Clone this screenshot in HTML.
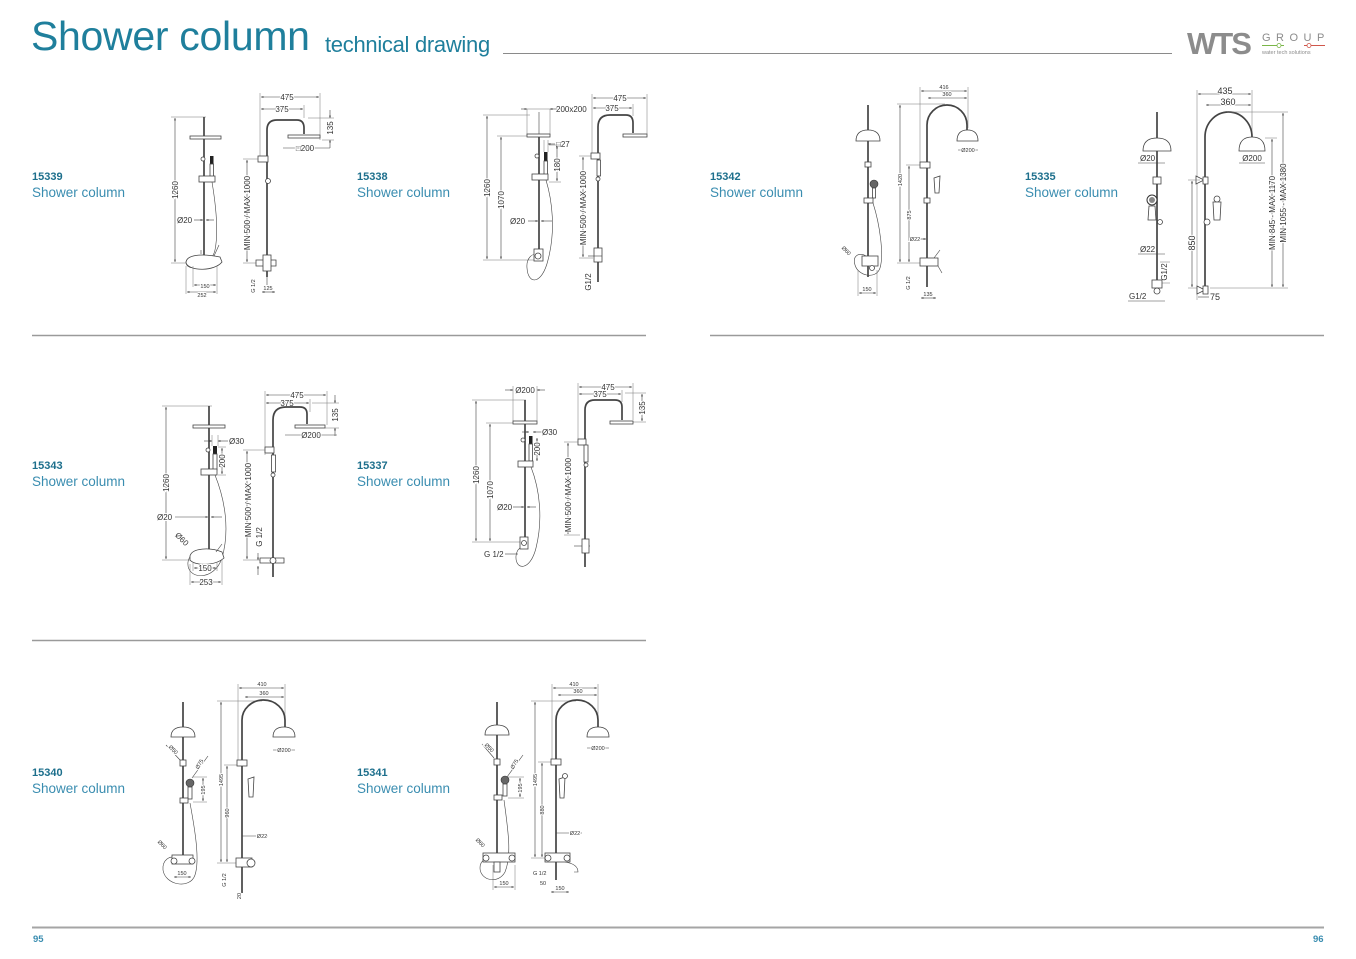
<!DOCTYPE html>
<html><head><meta charset="utf-8"><style>
html,body{margin:0;padding:0;background:#fff;}
#pg{position:relative;width:1356px;height:959px;overflow:hidden;background:#fff;font-family:"Liberation Sans",sans-serif;}
.h1{position:absolute;left:31px;top:13px;font-size:41px;color:#1f7f9c;white-space:nowrap;letter-spacing:-0.3px;}
.h2{position:absolute;left:325px;top:32px;font-size:22px;color:#1f7f9c;white-space:nowrap;letter-spacing:-0.3px;}
.code{position:absolute;font-size:11px;font-weight:bold;color:#1d6f8c;}
.name{position:absolute;font-size:13.5px;color:#3a8db0;white-space:nowrap;}
.pn{position:absolute;font-size:9.5px;font-weight:bold;color:#3a8db0;top:934px;}
svg{position:absolute;left:0;top:0;}
.p{stroke:#444;stroke-width:1.7;fill:none}
.t{stroke:#444;stroke-width:0.8;fill:#fff}
.d{stroke:#444;stroke-width:0.6;fill:none}
.e{stroke:#777;stroke-width:0.5;fill:none}
text{font-family:"Liberation Sans",sans-serif;fill:#333;paint-order:stroke;stroke:#fff;stroke-width:2px;}
.s8{font-size:8px}
.s5{font-size:5.5px}
.s9{font-size:9px}
</style></head><body><div id="pg">
<div class="h1">Shower column</div>
<div class="h2">technical drawing</div>

<div class="code" style="left:32px;top:171px">15339</div><div class="name" style="left:32px;top:185px">Shower column</div>
<div class="code" style="left:357px;top:171px">15338</div><div class="name" style="left:357px;top:185px">Shower column</div>
<div class="code" style="left:710px;top:171px">15342</div><div class="name" style="left:710px;top:185px">Shower column</div>
<div class="code" style="left:1025px;top:171px">15335</div><div class="name" style="left:1025px;top:185px">Shower column</div>
<div class="code" style="left:32px;top:460px">15343</div><div class="name" style="left:32px;top:474px">Shower column</div>
<div class="code" style="left:357px;top:460px">15337</div><div class="name" style="left:357px;top:474px">Shower column</div>
<div class="code" style="left:32px;top:767px">15340</div><div class="name" style="left:32px;top:781px">Shower column</div>
<div class="code" style="left:357px;top:767px">15341</div><div class="name" style="left:357px;top:781px">Shower column</div>
<div class="pn" style="left:33px">95</div>
<div class="pn" style="left:1313px">96</div>

<svg width="1356" height="959" viewBox="0 0 1356 959">
<defs><marker id="a" viewBox="0 0 6 6" refX="6" refY="3" markerWidth="4" markerHeight="4" orient="auto-start-reverse"><path d="M0,0.8 L6,3 L0,5.2z" fill="#333"/></marker></defs>

<!-- header lines & logo -->
<line x1="503" y1="53.5" x2="1172" y2="53.5" stroke="#8a8a8a" stroke-width="1"/>
<text x="1187" y="54" style="font-size:31px;font-weight:bold;fill:#8c8c8c;stroke:none;letter-spacing:-2px">WTS</text>
<text x="1262" y="41" style="font-size:11px;fill:#8c8c8c;stroke:none;letter-spacing:5.5px">GROUP</text>
<line x1="1262" y1="45.5" x2="1284" y2="45.5" stroke="#7ab648" stroke-width="1"/><circle cx="1279" cy="45.5" r="2" fill="#fff" stroke="#7ab648" stroke-width="0.8"/>
<line x1="1304" y1="45.5" x2="1325" y2="45.5" stroke="#d0574b" stroke-width="1"/><circle cx="1309" cy="45.5" r="2" fill="#fff" stroke="#d0574b" stroke-width="0.8"/>
<text x="1262" y="54" style="font-size:5.5px;fill:#8c8c8c;stroke:none">water tech solutions</text>

<!-- section lines -->
<line x1="32" y1="335.5" x2="646" y2="335.5" stroke="#9a9a9a" stroke-width="1.5"/>
<line x1="710" y1="335.5" x2="1324" y2="335.5" stroke="#9a9a9a" stroke-width="1.5"/>
<line x1="32" y1="640.5" x2="646" y2="640.5" stroke="#9a9a9a" stroke-width="1.5"/>
<line x1="32" y1="927.5" x2="1324" y2="927.5" stroke="#a5a5a5" stroke-width="2"/>

<!-- ===== 15339 ===== -->
<line class="e" x1="171" y1="117" x2="206" y2="117"/><line class="e" x1="171" y1="263" x2="190" y2="263"/>
<line class="d" x1="175" y1="118" x2="175" y2="262" marker-start="url(#a)" marker-end="url(#a)"/>
<text class="s8" transform="translate(178,190) rotate(-90)" text-anchor="middle">1260</text>
<path class="p" d="M204 117 V256"/>
<rect class="t" x="190" y="136" width="31" height="3"/>
<circle class="t" cx="203" cy="159" r="2"/>
<rect x="210" y="156" width="3.5" height="8" fill="#222"/><rect class="t" x="210" y="164" width="3.5" height="15"/>
<rect class="t" x="199" y="176" width="16" height="6"/>
<path class="d" d="M212 182 C215 200 219 230 215 250 C211 268 186 273 186 262 C187 255 200 256 205 260"/>
<text class="s8" x="177" y="223">Ø20</text>
<line class="d" x1="194" y1="220" x2="203" y2="220" marker-end="url(#a)"/><line class="d" x1="214" y1="220" x2="206" y2="220" marker-end="url(#a)"/>
<path class="t" d="M186 263 C186 255 200 253 220 257 L222 262 C215 271 190 272 186 263 Z"/>
<path class="d" d="M214 256 L219 245 M201 254 V250"/>
<line class="e" x1="193" y1="266" x2="193" y2="287"/><line class="e" x1="217" y1="266" x2="217" y2="294"/><line class="e" x1="186" y1="266" x2="186" y2="294"/>
<line class="d" x1="194" y1="285" x2="216" y2="285" marker-start="url(#a)" marker-end="url(#a)"/><text class="s5" x="205" y="288" text-anchor="middle">150</text>
<line class="d" x1="187" y1="292" x2="216" y2="292" marker-start="url(#a)" marker-end="url(#a)"/><text class="s5" x="202" y="297" text-anchor="middle">252</text>
<!-- side -->
<line class="e" x1="260" y1="93" x2="260" y2="158"/><line class="e" x1="320" y1="93" x2="320" y2="140"/><line class="e" x1="304" y1="105" x2="304" y2="118"/>
<line class="d" x1="261" y1="97" x2="319" y2="97" marker-start="url(#a)" marker-end="url(#a)"/><text class="s8" x="287" y="100" text-anchor="middle">475</text>
<line class="d" x1="261" y1="109" x2="303" y2="109" marker-start="url(#a)" marker-end="url(#a)"/><text class="s8" x="282" y="112" text-anchor="middle">375</text>
<line class="e" x1="308" y1="118" x2="334" y2="118"/><line class="e" x1="322" y1="140" x2="334" y2="140"/>
<line class="d" x1="330" y1="110" x2="330" y2="118" marker-end="url(#a)"/><line class="d" x1="330" y1="148" x2="330" y2="140" marker-end="url(#a)"/>
<text class="s8" transform="translate(333,128) rotate(-90)" text-anchor="middle">135</text>
<path class="p" d="M267 277 V130 Q267 120 277 120 H297 Q304 120 304 128 V134"/>
<rect class="t" x="288" y="135" width="32" height="3"/>
<line class="d" x1="283" y1="148" x2="330" y2="148"/><text class="s8" x="305" y="151" text-anchor="middle">□200</text>
<rect class="t" x="258" y="156" width="10" height="6"/>
<circle class="t" cx="268" cy="181" r="2.5"/>
<line class="e" x1="243" y1="159" x2="258" y2="159"/><line class="e" x1="243" y1="263" x2="258" y2="263"/>
<line class="d" x1="247" y1="160" x2="247" y2="262" marker-start="url(#a)" marker-end="url(#a)"/>
<text class="s8" transform="translate(250,213) rotate(-90)" text-anchor="middle">MIN 500 / MAX 1000</text>
<path class="t" d="M256 260 H276 V266 H256 Z"/><rect class="t" x="263" y="255" width="8" height="16"/><line class="d" x1="267" y1="271" x2="267" y2="285"/>
<text class="s5" transform="translate(255,286) rotate(-90)" text-anchor="middle">G 1/2</text>
<line class="d" x1="262" y1="292" x2="275" y2="292" marker-start="url(#a)" marker-end="url(#a)"/><text class="s5" x="268" y="290" text-anchor="middle">125</text>

<!-- ===== 15338 ===== -->
<line class="e" x1="483" y1="115" x2="530" y2="115"/><line class="e" x1="483" y1="260" x2="535" y2="260"/><line class="e" x1="497" y1="136" x2="527" y2="136"/>
<line class="d" x1="487" y1="116" x2="487" y2="259" marker-start="url(#a)" marker-end="url(#a)"/>
<text class="s8" transform="translate(490,188) rotate(-90)" text-anchor="middle">1260</text>
<line class="d" x1="501" y1="137" x2="501" y2="259" marker-start="url(#a)" marker-end="url(#a)"/>
<text class="s8" transform="translate(504,200) rotate(-90)" text-anchor="middle">1070</text>
<rect class="e" x="527" y="109" width="23" height="26"/><line class="d" x1="539" y1="112" x2="539" y2="135"/>
<rect class="t" x="527" y="134" width="23" height="3"/>
<line class="d" x1="521" y1="109" x2="527" y2="109" marker-end="url(#a)"/><line class="d" x1="557" y1="109" x2="550" y2="109" marker-end="url(#a)"/>
<text class="s8" x="556" y="112">200x200</text>
<path class="p" d="M539 137 V258"/>
<line class="e" x1="544" y1="140" x2="544" y2="152"/><line class="e" x1="548" y1="140" x2="548" y2="152"/>
<line class="d" x1="555" y1="144" x2="548" y2="144" marker-end="url(#a)"/><text class="s8" x="556" y="147">□27</text>
<line class="e" x1="549" y1="145" x2="561" y2="145"/><line class="e" x1="549" y1="182" x2="561" y2="182"/>
<line class="d" x1="557" y1="146" x2="557" y2="181" marker-start="url(#a)" marker-end="url(#a)"/>
<text class="s8" transform="translate(560,165) rotate(-90)" text-anchor="middle">180</text>
<circle class="t" cx="537" cy="156" r="2"/>
<rect x="544" y="152" width="3.5" height="9" fill="#222"/><rect class="t" x="544" y="161" width="3.5" height="15"/>
<rect class="t" x="532" y="174" width="16" height="6"/>
<text class="s8" x="510" y="224">Ø20</text>
<line class="d" x1="528" y1="221" x2="538" y2="221" marker-end="url(#a)"/><line class="d" x1="552" y1="221" x2="541" y2="221" marker-end="url(#a)"/>
<path class="d" d="M546 180 C552 200 556 230 548 260 C542 285 528 285 527 268 C526 258 533 252 538 255"/>
<rect class="t" x="534" y="249" width="9" height="12"/><circle class="t" cx="538" cy="256" r="3"/>
<line class="e" x1="592" y1="94" x2="592" y2="158"/><line class="e" x1="647" y1="94" x2="647" y2="134"/><line class="e" x1="633" y1="104" x2="633" y2="116"/>
<line class="d" x1="593" y1="98" x2="646" y2="98" marker-start="url(#a)" marker-end="url(#a)"/><text class="s8" x="620" y="101" text-anchor="middle">475</text>
<line class="d" x1="593" y1="108" x2="632" y2="108" marker-start="url(#a)" marker-end="url(#a)"/><text class="s8" x="612" y="111" text-anchor="middle">375</text>
<path class="p" d="M598 282 V127 Q598 115 610 115 H626 Q633 115 633 123 V133"/>
<rect class="t" x="623" y="134" width="24" height="3"/>
<rect class="t" x="591" y="153" width="9" height="6"/>
<rect class="t" x="597" y="160" width="3.5" height="16"/><circle class="t" cx="598" cy="179" r="2"/>
<line class="e" x1="579" y1="156" x2="591" y2="156"/><line class="e" x1="579" y1="258" x2="593" y2="258"/>
<line class="d" x1="583" y1="157" x2="583" y2="257" marker-start="url(#a)" marker-end="url(#a)"/>
<text class="s8" transform="translate(586,208) rotate(-90)" text-anchor="middle">MIN 500 / MAX 1000</text>
<rect class="t" x="594" y="248" width="8" height="14"/><line class="d" x1="588" y1="256" x2="602" y2="256"/>
<text class="s8" transform="translate(591,282) rotate(-90)" text-anchor="middle">G1/2</text>

<!-- ===== 15342 ===== -->
<path class="p" d="M868 105 V130"/>
<path class="t" d="M856 141 Q856 130 868 130 Q880 130 880 141 Z"/>
<path class="p" d="M868 141 V277"/>
<rect class="t" x="865" y="162" width="6" height="5"/>
<circle cx="874" cy="184" r="4" fill="#666" stroke="#333" stroke-width="0.6"/>
<rect class="t" x="872.5" y="188" width="3" height="10"/>
<rect class="t" x="864" y="198" width="9" height="5"/>
<path class="d" d="M873 203 C880 225 884 255 880 268 C876 280 858 276 855 265 C852 255 860 252 866 256"/>
<rect class="t" x="862" y="256" width="16" height="10"/><circle class="t" cx="872" cy="268" r="2.5"/>
<text class="s5" transform="translate(845,252) rotate(45)" text-anchor="middle">Ø60</text>
<line class="e" x1="858" y1="270" x2="858" y2="296"/><line class="e" x1="877" y1="270" x2="877" y2="296"/>
<line class="d" x1="859" y1="293" x2="876" y2="293" marker-start="url(#a)" marker-end="url(#a)"/><text class="s5" x="867" y="291" text-anchor="middle">150</text>
<line class="e" x1="920" y1="87" x2="920" y2="163"/><line class="e" x1="968" y1="87" x2="968" y2="128"/>
<line class="d" x1="921" y1="91" x2="967" y2="91" marker-start="url(#a)" marker-end="url(#a)"/><text class="s5" x="944" y="89" text-anchor="middle">416</text>
<line class="d" x1="928" y1="98" x2="967" y2="98" marker-start="url(#a)" marker-end="url(#a)"/><text class="s5" x="947" y="96" text-anchor="middle">360</text>
<line class="e" x1="897" y1="104" x2="945" y2="104"/><line class="e" x1="897" y1="263" x2="920" y2="263"/><line class="e" x1="906" y1="165" x2="920" y2="165"/>
<line class="d" x1="900" y1="105" x2="900" y2="262" marker-start="url(#a)" marker-end="url(#a)"/>
<text class="s5" transform="translate(902,180) rotate(-90)" text-anchor="middle">1420</text>
<line class="d" x1="909" y1="166" x2="909" y2="262" marker-start="url(#a)" marker-end="url(#a)"/>
<text class="s5" transform="translate(911,215) rotate(-90)" text-anchor="middle">875</text>
<path class="p" d="M927 287 V125 A20 20 0 0 1 967 125 V130"/>
<path class="t" d="M957 141 Q957 130 967.5 130 Q978 130 978 141 Z"/>
<line class="d" x1="958" y1="150" x2="978" y2="150"/><text class="s5" x="968" y="152" text-anchor="middle">Ø200</text>
<rect class="t" x="920" y="162" width="10" height="6"/>
<path class="t" d="M934 178 L940 176 L939 193 L935 193 Z"/>
<rect class="t" x="924" y="198" width="6" height="5"/>
<line class="d" x1="912" y1="239" x2="926" y2="239" marker-end="url(#a)"/><text class="s5" x="915" y="241" text-anchor="middle">Ø22</text>
<rect class="t" x="920" y="258" width="18" height="8"/><path class="d" d="M934 258 L940 250 M938 266 L942 273"/>
<text class="s5" transform="translate(910,283) rotate(-90)" text-anchor="middle">G 1/2</text>
<line class="d" x1="921" y1="298" x2="936" y2="298" marker-start="url(#a)" marker-end="url(#a)"/><text class="s5" x="928" y="296" text-anchor="middle">135</text>

<!-- ===== 15335 ===== -->
<path class="p" d="M1157 112 V138"/>
<path class="t" d="M1143 151 Q1143 138 1157 138 Q1171 138 1171 151 Z"/>
<path class="p" d="M1157 151 V293"/>
<line class="d" x1="1138" y1="163" x2="1165" y2="163"/><text class="s8" x="1140" y="161">Ø20</text>
<rect class="t" x="1153" y="177" width="8" height="7"/>
<circle cx="1152" cy="200" r="5" fill="#fff" stroke="#333" stroke-width="1"/><circle cx="1152" cy="200" r="3" fill="#888"/>
<path class="t" d="M1149 206 L1155 206 L1156 220 L1148 220 Z"/>
<circle class="t" cx="1160" cy="222" r="2.5"/>
<line class="d" x1="1138" y1="254" x2="1165" y2="254"/><text class="s8" x="1140" y="252">Ø22</text>
<line class="e" x1="1160" y1="262" x2="1170" y2="262"/><line class="e" x1="1160" y1="283" x2="1170" y2="283"/>
<text class="s8" transform="translate(1167,272) rotate(-90)" text-anchor="middle">G1/2</text>
<rect class="t" x="1152" y="280" width="10" height="8"/><circle class="t" cx="1157" cy="291" r="3"/>
<line class="d" x1="1128" y1="301" x2="1165" y2="301"/><text class="s8" x="1129" y="299">G1/2</text>
<line class="e" x1="1197" y1="90" x2="1197" y2="300"/><line class="e" x1="1252" y1="90" x2="1252" y2="135"/>
<line class="d" x1="1198" y1="94" x2="1251" y2="94" marker-start="url(#a)" marker-end="url(#a)"/><text class="s9" x="1225" y="94" text-anchor="middle">435</text>
<line class="d" x1="1206" y1="105" x2="1251" y2="105" marker-start="url(#a)" marker-end="url(#a)"/><text class="s9" x="1228" y="105" text-anchor="middle">360</text>
<path class="p" d="M1205 293 V137 A23.5 25 0 0 1 1252 137"/>
<path class="t" d="M1239 151 Q1239 137 1252 137 Q1265 137 1265 151 Z"/>
<line class="d" x1="1239" y1="163" x2="1265" y2="163"/><text class="s8" x="1252" y="161" text-anchor="middle">Ø200</text>
<path class="t" d="M1196 176 L1204 180 L1196 184 Z"/><rect class="t" x="1203" y="177" width="5" height="7"/>
<circle class="t" cx="1217" cy="199" r="3"/><path class="t" d="M1213 202 L1221 202 L1220 220 L1214 220 Z"/>
<circle class="t" cx="1207" cy="222" r="3"/>
<line class="e" x1="1188" y1="180" x2="1200" y2="180"/><line class="e" x1="1188" y1="288" x2="1200" y2="288"/>
<line class="d" x1="1192" y1="181" x2="1192" y2="287" marker-start="url(#a)" marker-end="url(#a)"/>
<text class="s9" transform="translate(1195,243) rotate(-90)" text-anchor="middle">850</text>
<line class="e" x1="1265" y1="138" x2="1277" y2="138"/><line class="e" x1="1227" y1="112" x2="1288" y2="112"/><line class="e" x1="1210" y1="288" x2="1288" y2="288"/>
<line class="d" x1="1272" y1="139" x2="1272" y2="287" marker-start="url(#a)" marker-end="url(#a)"/>
<text class="s8" transform="translate(1275,213) rotate(-90)" text-anchor="middle">MIN 845 - MAX 1170</text>
<line class="d" x1="1283" y1="113" x2="1283" y2="287" marker-start="url(#a)" marker-end="url(#a)"/>
<text class="s8" transform="translate(1286,203) rotate(-90)" text-anchor="middle">MIN 1055 - MAX 1380</text>
<path class="t" d="M1197 286 L1205 290 L1197 294 Z"/><rect class="t" x="1203" y="286" width="5" height="8"/>
<line class="d" x1="1198" y1="297" x2="1209" y2="297"/><text class="s9" x="1210" y="300">75</text>

<!-- ===== 15343 ===== -->
<line class="e" x1="162" y1="406" x2="212" y2="406"/><line class="e" x1="162" y1="560" x2="190" y2="560"/>
<line class="d" x1="166" y1="407" x2="166" y2="559" marker-start="url(#a)" marker-end="url(#a)"/>
<text class="s8" transform="translate(169,483) rotate(-90)" text-anchor="middle">1260</text>
<path class="p" d="M209 406 V555"/>
<rect class="t" x="193" y="425" width="32" height="3"/>
<line class="e" x1="212" y1="435" x2="212" y2="446"/><line class="e" x1="218" y1="435" x2="218" y2="446"/>
<line class="d" x1="204" y1="441" x2="212" y2="441" marker-end="url(#a)"/><line class="d" x1="228" y1="441" x2="218" y2="441" marker-end="url(#a)"/>
<text class="s8" x="229" y="444">Ø30</text>
<line class="e" x1="218" y1="447" x2="226" y2="447"/><line class="e" x1="218" y1="475" x2="226" y2="475"/>
<line class="d" x1="222" y1="448" x2="222" y2="474" marker-start="url(#a)" marker-end="url(#a)"/>
<text class="s8" transform="translate(225,461) rotate(-90)" text-anchor="middle">200</text>
<circle class="t" cx="208" cy="450" r="2"/>
<rect x="213" y="446" width="4" height="8" fill="#222"/><rect class="t" x="213" y="454" width="4" height="16"/>
<rect class="t" x="201" y="469" width="16" height="6"/>
<path class="d" d="M215 475 C225 500 230 530 222 558 C214 582 186 580 188 562 C190 550 205 549 210 553"/>
<text class="s8" x="157" y="520">Ø20</text>
<line class="d" x1="175" y1="517" x2="208" y2="517" marker-end="url(#a)"/><line class="d" x1="222" y1="517" x2="211" y2="517" marker-end="url(#a)"/>
<text class="s8" transform="translate(180,541) rotate(45)" text-anchor="middle">Ø60</text>
<path class="t" d="M190 556 C192 548 210 547 222 552 L224 558 C215 566 195 566 190 560 Z"/>
<path class="d" d="M216 552 L222 544"/>
<line class="e" x1="193" y1="562" x2="193" y2="571"/><line class="e" x1="217" y1="562" x2="217" y2="571"/><line class="e" x1="190" y1="564" x2="190" y2="585"/><line class="e" x1="222" y1="560" x2="222" y2="585"/>
<line class="d" x1="194" y1="568" x2="216" y2="568" marker-start="url(#a)" marker-end="url(#a)"/><text class="s8" x="205" y="571" text-anchor="middle">150</text>
<line class="d" x1="191" y1="582" x2="221" y2="582" marker-start="url(#a)" marker-end="url(#a)"/><text class="s8" x="206" y="585" text-anchor="middle">253</text>
<line class="e" x1="265" y1="391" x2="265" y2="455"/><line class="e" x1="327" y1="391" x2="327" y2="425"/><line class="e" x1="310" y1="399" x2="310" y2="412"/>
<line class="d" x1="266" y1="395" x2="326" y2="395" marker-start="url(#a)" marker-end="url(#a)"/><text class="s8" x="297" y="398" text-anchor="middle">475</text>
<line class="d" x1="266" y1="403" x2="309" y2="403" marker-start="url(#a)" marker-end="url(#a)"/><text class="s8" x="287" y="406" text-anchor="middle">375</text>
<line class="e" x1="312" y1="403" x2="339" y2="403"/><line class="e" x1="325" y1="428" x2="339" y2="428"/>
<line class="d" x1="335" y1="395" x2="335" y2="403" marker-end="url(#a)"/><line class="d" x1="335" y1="436" x2="335" y2="428" marker-end="url(#a)"/>
<text class="s8" transform="translate(338,415) rotate(-90)" text-anchor="middle">135</text>
<path class="p" d="M273 577 V420 Q273 407 286 407 H300 Q307 407 307 414 V424"/>
<rect class="t" x="295" y="425" width="30" height="3"/>
<line class="d" x1="285" y1="435" x2="337" y2="435"/><text class="s8" x="311" y="438" text-anchor="middle">Ø200</text>
<rect class="t" x="265" y="447" width="9" height="6"/>
<rect class="t" x="271.5" y="455" width="4" height="17"/><circle class="t" cx="273" cy="475" r="2"/>
<line class="e" x1="243" y1="450" x2="265" y2="450"/><line class="e" x1="243" y1="560" x2="262" y2="560"/>
<line class="d" x1="247" y1="451" x2="247" y2="559" marker-start="url(#a)" marker-end="url(#a)"/>
<text class="s8" transform="translate(251,500) rotate(-90)" text-anchor="middle">MIN 500 / MAX 1000</text>
<text class="s8" transform="translate(262,537) rotate(-90)" text-anchor="middle">G 1/2</text>
<line class="d" x1="258" y1="553" x2="258" y2="560" marker-end="url(#a)"/><line class="d" x1="258" y1="575" x2="258" y2="566" marker-end="url(#a)"/>
<path class="t" d="M260 558 H284 V563 H260 Z"/><circle class="t" cx="273" cy="560.5" r="3"/>

<!-- ===== 15337 ===== -->
<line class="e" x1="513" y1="386" x2="513" y2="421"/><line class="e" x1="537" y1="386" x2="537" y2="421"/>
<line class="d" x1="505" y1="390" x2="513" y2="390" marker-end="url(#a)"/><line class="d" x1="545" y1="390" x2="537" y2="390" marker-end="url(#a)"/>
<text class="s8" x="525" y="393" text-anchor="middle">Ø200</text>
<line class="e" x1="472" y1="400" x2="526" y2="400"/><line class="e" x1="486" y1="423" x2="513" y2="423"/><line class="e" x1="472" y1="542" x2="520" y2="542"/>
<line class="d" x1="476" y1="401" x2="476" y2="541" marker-start="url(#a)" marker-end="url(#a)"/>
<text class="s8" transform="translate(479,475) rotate(-90)" text-anchor="middle">1260</text>
<line class="d" x1="490" y1="424" x2="490" y2="541" marker-start="url(#a)" marker-end="url(#a)"/>
<text class="s8" transform="translate(493,490) rotate(-90)" text-anchor="middle">1070</text>
<path class="p" d="M525 400 V548"/>
<rect class="t" x="513" y="421" width="24" height="3"/>
<line class="d" x1="522" y1="432" x2="529" y2="432" marker-end="url(#a)"/><line class="d" x1="545" y1="432" x2="533" y2="432" marker-end="url(#a)"/>
<text class="s8" x="542" y="435">Ø30</text>
<line class="d" x1="537" y1="438" x2="537" y2="461" marker-start="url(#a)" marker-end="url(#a)"/>
<text class="s8" transform="translate(540,449) rotate(-90)" text-anchor="middle">200</text>
<circle class="t" cx="523" cy="440" r="2"/>
<rect x="529" y="436" width="3.5" height="8" fill="#222"/><rect class="t" x="529" y="444" width="3.5" height="17"/>
<rect class="t" x="518" y="461" width="15" height="6"/>
<path class="d" d="M531 467 C540 490 543 520 536 548 C530 572 515 570 516 556 C517 548 522 546 525 548"/>
<text class="s8" x="497" y="510">Ø20</text>
<line class="d" x1="513" y1="507" x2="524" y2="507" marker-end="url(#a)"/><line class="d" x1="536" y1="507" x2="527" y2="507" marker-end="url(#a)"/>
<text class="s8" x="484" y="557">G 1/2</text><line class="d" x1="505" y1="554" x2="518" y2="554"/>
<rect class="t" x="520" y="537" width="8" height="12"/><circle class="t" cx="524" cy="543" r="2.5"/>
<line class="e" x1="578" y1="383" x2="578" y2="445"/><line class="e" x1="633" y1="383" x2="633" y2="420"/><line class="e" x1="622" y1="390" x2="622" y2="402"/>
<line class="d" x1="579" y1="387" x2="632" y2="387" marker-start="url(#a)" marker-end="url(#a)"/><text class="s8" x="608" y="390" text-anchor="middle">475</text>
<line class="d" x1="579" y1="394" x2="621" y2="394" marker-start="url(#a)" marker-end="url(#a)"/><text class="s8" x="600" y="397" text-anchor="middle">375</text>
<line class="e" x1="625" y1="393" x2="646" y2="393"/><line class="e" x1="633" y1="422" x2="646" y2="422"/>
<line class="d" x1="642" y1="394" x2="642" y2="421" marker-start="url(#a)" marker-end="url(#a)"/>
<text class="s8" transform="translate(645,408) rotate(-90)" text-anchor="middle">135</text>
<path class="p" d="M585 567 V410 Q585 400 595 400 H615 Q622 400 622 407 V420"/>
<rect class="t" x="610" y="421" width="23" height="3"/>
<rect class="t" x="578" y="439" width="8" height="6"/>
<rect class="t" x="584" y="445" width="4" height="17"/><circle class="t" cx="586" cy="465" r="2"/>
<line class="e" x1="564" y1="442" x2="578" y2="442"/><line class="e" x1="564" y1="535" x2="580" y2="535"/>
<line class="d" x1="568" y1="443" x2="568" y2="534" marker-start="url(#a)" marker-end="url(#a)"/>
<text class="s8" transform="translate(571,495) rotate(-90)" text-anchor="middle">MIN 500 / MAX 1000</text>
<line class="d" x1="574" y1="546" x2="590" y2="546"/><rect class="t" x="582" y="539" width="7" height="14"/>

<!-- ===== 15340 ===== -->
<path class="p" d="M183 702 V727"/>
<path class="t" d="M171 737 Q171 727 183 727 Q195 727 195 737 Z"/>
<path class="p" d="M183 737 V862"/>
<line class="d" x1="166" y1="745" x2="180" y2="760"/><text class="s5" transform="translate(172,751) rotate(45)" text-anchor="middle">Ø50</text>
<rect class="t" x="180" y="760" width="6" height="6"/>
<line class="d" x1="192" y1="778" x2="208" y2="756"/><text class="s5" transform="translate(201,765) rotate(-60)" text-anchor="middle">Ø75</text>
<circle cx="190" cy="783" r="4" fill="#666" stroke="#333" stroke-width="0.6"/>
<rect class="t" x="188" y="787" width="4" height="12"/>
<line class="e" x1="193" y1="777" x2="207" y2="777"/><line class="e" x1="193" y1="802" x2="207" y2="802"/>
<line class="d" x1="203" y1="778" x2="203" y2="801" marker-start="url(#a)" marker-end="url(#a)"/>
<text class="s5" transform="translate(205,790) rotate(-90)" text-anchor="middle">195</text>
<rect class="t" x="180" y="798" width="8" height="5"/>
<path class="d" d="M190 803 C195 830 200 860 195 875 C190 890 165 885 163 870 C162 860 170 855 176 858"/>
<text class="s5" transform="translate(161,846) rotate(45)" text-anchor="middle">Ø60</text>
<rect class="t" x="172" y="855" width="21" height="9"/><circle class="t" cx="174" cy="861" r="3"/><circle class="t" cx="192" cy="861" r="3"/>
<line class="d" x1="174" y1="877" x2="191" y2="877" marker-start="url(#a)" marker-end="url(#a)"/><text class="s5" x="182" y="875" text-anchor="middle">150</text>
<line class="e" x1="238" y1="684" x2="238" y2="765"/><line class="e" x1="285" y1="684" x2="285" y2="718"/>
<line class="d" x1="239" y1="688" x2="284" y2="688" marker-start="url(#a)" marker-end="url(#a)"/><text class="s5" x="262" y="686" text-anchor="middle">410</text>
<line class="d" x1="245" y1="697" x2="284" y2="697" marker-start="url(#a)" marker-end="url(#a)"/><text class="s5" x="264" y="695" text-anchor="middle">360</text>
<line class="e" x1="217" y1="701" x2="262" y2="701"/><line class="e" x1="217" y1="863" x2="238" y2="863"/><line class="e" x1="224" y1="765" x2="238" y2="765"/>
<line class="d" x1="221" y1="702" x2="221" y2="862" marker-start="url(#a)" marker-end="url(#a)"/>
<text class="s5" transform="translate(223,780) rotate(-90)" text-anchor="middle">1495</text>
<line class="d" x1="227" y1="766" x2="227" y2="862" marker-start="url(#a)" marker-end="url(#a)"/>
<text class="s5" transform="translate(229,813) rotate(-90)" text-anchor="middle">960</text>
<path class="p" d="M242 893 V720 A21.5 20 0 0 1 285 720 V727"/>
<path class="t" d="M273 737 Q273 727 284 727 Q295 727 295 737 Z"/>
<line class="d" x1="273" y1="750" x2="295" y2="750"/><text class="s5" x="284" y="752" text-anchor="middle">Ø200</text>
<rect class="t" x="237" y="760" width="10" height="6"/>
<path class="t" d="M248 779 L254 777 L253 797 L249 797 Z"/>
<line class="d" x1="242" y1="836" x2="268" y2="836"/><text class="s5" x="262" y="838" text-anchor="middle">Ø22</text>
<rect class="t" x="236" y="858" width="16" height="9"/><circle class="t" cx="251" cy="863" r="4"/>
<text class="s5" transform="translate(226,880) rotate(-90)" text-anchor="middle">G 1/2</text>
<text class="s5" transform="translate(241,896) rotate(-90)" text-anchor="middle">20</text>

<!-- ===== 15341 ===== -->
<path class="p" d="M497 702 V725"/>
<path class="t" d="M485 735 Q485 725 497 725 Q509 725 509 735 Z"/>
<path class="p" d="M497 735 V857"/>
<line class="d" x1="482" y1="744" x2="494" y2="758"/><text class="s5" transform="translate(488,749) rotate(45)" text-anchor="middle">Ø50</text>
<rect class="t" x="494" y="759" width="6" height="6"/>
<line class="d" x1="507" y1="777" x2="523" y2="755"/><text class="s5" transform="translate(516,765) rotate(-60)" text-anchor="middle">Ø75</text>
<circle cx="505" cy="780" r="4" fill="#666" stroke="#333" stroke-width="0.6"/>
<rect class="t" x="503" y="784" width="4" height="12"/>
<line class="e" x1="508" y1="777" x2="524" y2="777"/><line class="e" x1="508" y1="798" x2="524" y2="798"/>
<line class="d" x1="520" y1="778" x2="520" y2="797" marker-start="url(#a)" marker-end="url(#a)"/>
<text class="s5" transform="translate(522,788) rotate(-90)" text-anchor="middle">195</text>
<rect class="t" x="494" y="795" width="8" height="5"/>
<path class="d" d="M504 800 C508 830 512 855 505 872 C498 885 480 880 480 868 C480 860 487 857 492 860"/>
<text class="s5" transform="translate(479,844) rotate(45)" text-anchor="middle">Ø60</text>
<rect class="t" x="483" y="853" width="32" height="9"/><circle class="t" cx="486" cy="858" r="3"/><circle class="t" cx="512" cy="858" r="3"/>
<rect class="t" x="494" y="862" width="6" height="10"/>
<line class="e" x1="493" y1="865" x2="493" y2="890"/><line class="e" x1="515" y1="865" x2="515" y2="890"/>
<line class="d" x1="494" y1="887" x2="514" y2="887" marker-start="url(#a)" marker-end="url(#a)"/><text class="s5" x="504" y="885" text-anchor="middle">150</text>
<line class="e" x1="552" y1="684" x2="552" y2="765"/><line class="e" x1="598" y1="684" x2="598" y2="718"/>
<line class="d" x1="553" y1="688" x2="597" y2="688" marker-start="url(#a)" marker-end="url(#a)"/><text class="s5" x="574" y="686" text-anchor="middle">410</text>
<line class="d" x1="558" y1="695" x2="597" y2="695" marker-start="url(#a)" marker-end="url(#a)"/><text class="s5" x="578" y="693" text-anchor="middle">360</text>
<line class="e" x1="531" y1="701" x2="576" y2="701"/><line class="e" x1="531" y1="858" x2="550" y2="858"/><line class="e" x1="538" y1="762" x2="552" y2="762"/>
<line class="d" x1="535" y1="702" x2="535" y2="857" marker-start="url(#a)" marker-end="url(#a)"/>
<text class="s5" transform="translate(537,780) rotate(-90)" text-anchor="middle">1495</text>
<line class="d" x1="542" y1="763" x2="542" y2="857" marker-start="url(#a)" marker-end="url(#a)"/>
<text class="s5" transform="translate(544,810) rotate(-90)" text-anchor="middle">880</text>
<path class="p" d="M556 880 V720 A21 20 0 0 1 598 720 V727"/>
<path class="t" d="M587 737 Q587 727 598 727 Q609 727 609 737 Z"/>
<line class="d" x1="587" y1="748" x2="609" y2="748"/><text class="s5" x="598" y="750" text-anchor="middle">Ø200</text>
<rect class="t" x="551" y="759" width="10" height="6"/>
<path class="t" d="M559 779 L565 777 L564 798 L560 798 Z"/><circle class="t" cx="565" cy="776" r="2.5"/>
<line class="d" x1="556" y1="833" x2="582" y2="833"/><text class="s5" x="575" y="835" text-anchor="middle">Ø22</text>
<rect class="t" x="545" y="853" width="25" height="9"/><circle class="t" cx="548" cy="858" r="3"/><circle class="t" cx="567" cy="858" r="3"/>
<path class="d" d="M565 862 Q578 864 578 872 L574 872"/>
<text class="s5" x="533" y="875">G 1/2</text>
<text class="s5" x="540" y="885">50</text>
<line class="d" x1="551" y1="892" x2="569" y2="892" marker-start="url(#a)" marker-end="url(#a)"/><text class="s5" x="560" y="890" text-anchor="middle">150</text>
</svg>
</div></body></html>
